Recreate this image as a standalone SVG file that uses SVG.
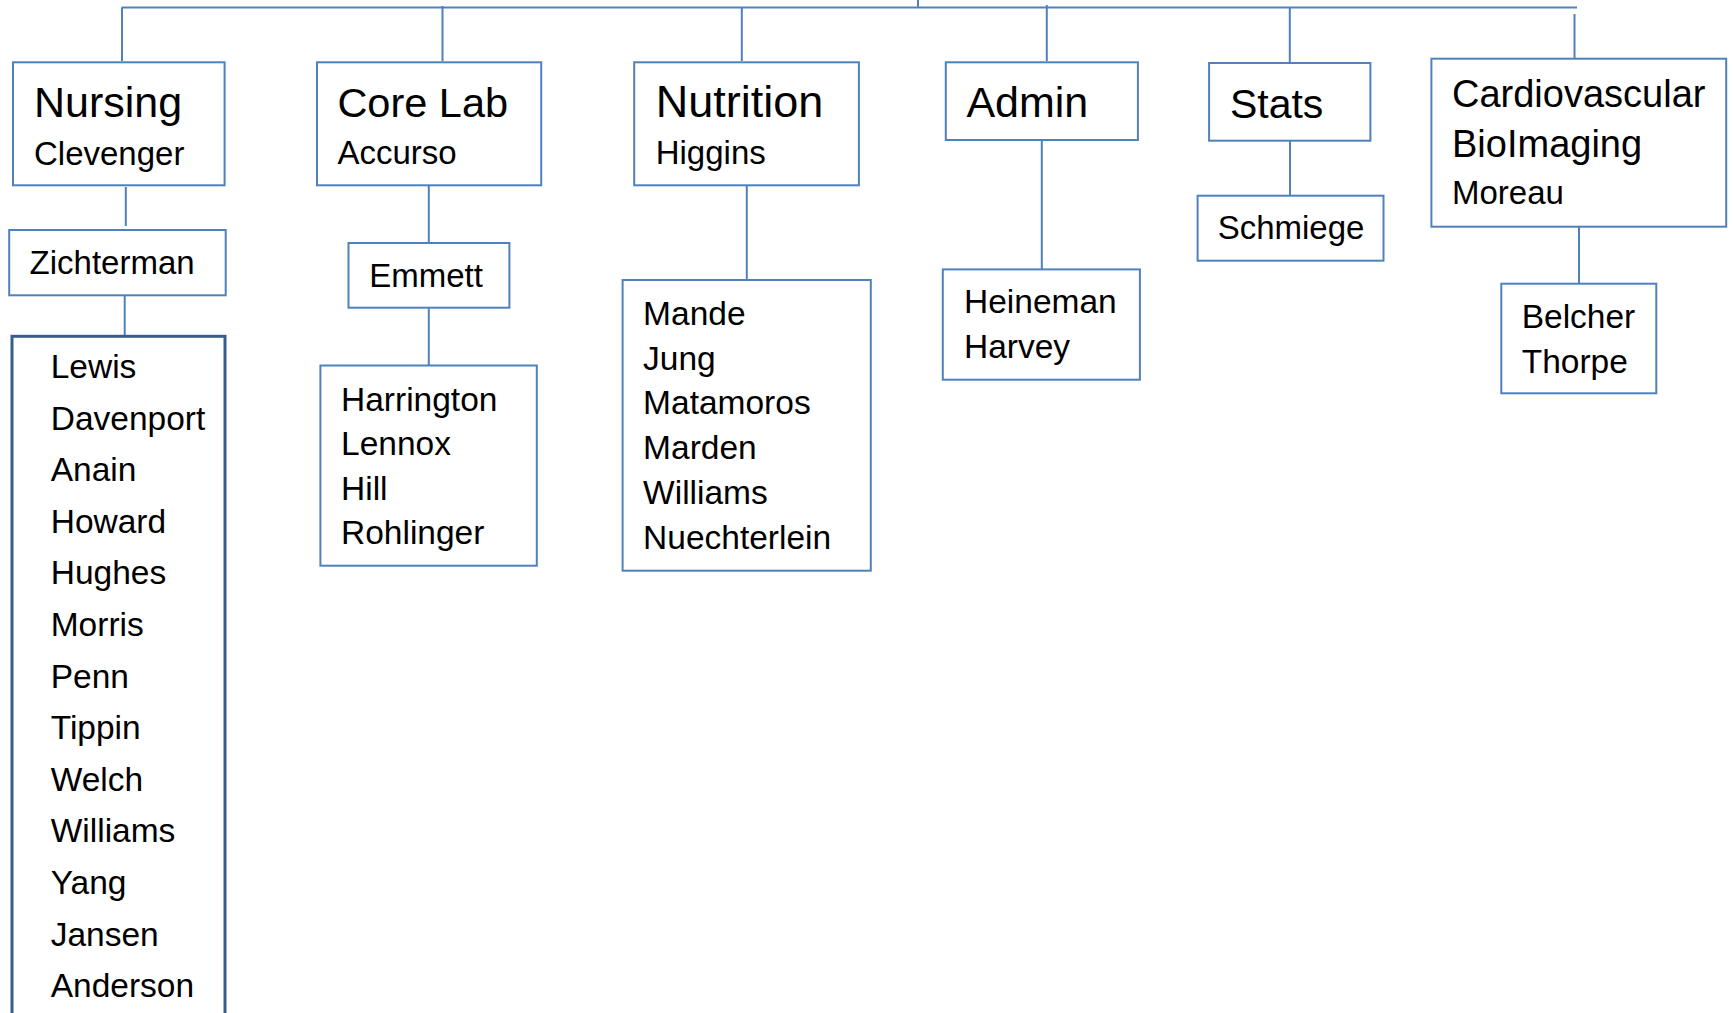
<svg xmlns="http://www.w3.org/2000/svg" width="1733" height="1013" viewBox="0 0 1733 1013">
<style>
.box{fill:#fff;stroke:#4F81BD;stroke-width:2}
.list{fill:#fff;stroke:#385D8A;stroke-width:3}
.ln{stroke:#4F81BD;stroke-width:2;fill:none}
text{font-family:"Liberation Sans",Arial,sans-serif;fill:#000}
.t{font-size:43px}
.s{font-size:33px}
.c{font-size:38px}
.n{font-size:33.5px}
</style>
<rect width="1733" height="1013" fill="#fff"/>
<g id="connectors">
<line class="ln" x1="121.6" y1="7.5" x2="1577" y2="7.5"/>
<line class="ln" x1="918" y1="0" x2="918" y2="7.5"/>
<line class="ln" x1="122" y1="7.5" x2="122" y2="61"/>
<line class="ln" x1="442.5" y1="6" x2="442.5" y2="61"/>
<line class="ln" x1="741.8" y1="7.5" x2="741.8" y2="61"/>
<line class="ln" x1="1046.8" y1="5" x2="1046.8" y2="61"/>
<line class="ln" x1="1289.8" y1="7.5" x2="1289.8" y2="62"/>
<line class="ln" x1="1574.5" y1="14" x2="1574.5" y2="58"/>
<line class="ln" x1="125.8" y1="187" x2="125.8" y2="226"/>
<line class="ln" x1="124.7" y1="296" x2="124.7" y2="335"/>
<line class="ln" x1="428.8" y1="186" x2="428.8" y2="243"/>
<line class="ln" x1="428.8" y1="308" x2="428.8" y2="365"/>
<line class="ln" x1="746.8" y1="186" x2="746.8" y2="280"/>
<line class="ln" x1="1041.8" y1="141" x2="1041.8" y2="269"/>
<line class="ln" x1="1290" y1="141" x2="1290" y2="195.5"/>
<line class="ln" x1="1579" y1="227" x2="1579" y2="283.5"/>
</g>
<g id="nursing">
<rect class="box" x="13" y="62.3" width="211.6" height="123"/>
<text class="t" x="34" y="116.7">Nursing</text>
<text class="s" x="34" y="165">Clevenger</text>
</g>
<g id="zichterman">
<rect class="box" x="9.2" y="230" width="216.5" height="65.3"/>
<text class="s" x="29.6" y="274">Zichterman</text>
</g>
<g id="nursing-staff">
<rect class="list" x="12" y="336.3" width="213" height="690"/>
<text class="n" x="50.7" y="378">Lewis</text>
<text class="n" x="50.7" y="429.6">Davenport</text>
<text class="n" x="50.7" y="481.2">Anain</text>
<text class="n" x="50.7" y="532.8">Howard</text>
<text class="n" x="50.7" y="584.4">Hughes</text>
<text class="n" x="50.7" y="636">Morris</text>
<text class="n" x="50.7" y="687.6">Penn</text>
<text class="n" x="50.7" y="739.2">Tippin</text>
<text class="n" x="50.7" y="790.8">Welch</text>
<text class="n" x="50.7" y="842.4">Williams</text>
<text class="n" x="50.7" y="894">Yang</text>
<text class="n" x="50.7" y="945.6">Jansen</text>
<text class="n" x="50.7" y="997.2">Anderson</text>
</g>
<g id="corelab">
<rect class="box" x="317" y="62.3" width="224.2" height="123"/>
<text class="t" x="337.4" y="116.7" style="font-size:41.5px">Core Lab</text>
<text class="s" x="337.4" y="164.3">Accurso</text>
</g>
<g id="emmett">
<rect class="box" x="348.5" y="243" width="160.9" height="64.7"/>
<text class="s" x="369.2" y="286.7">Emmett</text>
</g>
<g id="corelab-staff">
<rect class="box" x="320.4" y="365.5" width="216.4" height="200.2"/>
<text class="n" x="341" y="410.6">Harrington</text>
<text class="n" x="341" y="455">Lennox</text>
<text class="n" x="341" y="499.5">Hill</text>
<text class="n" x="341" y="544">Rohlinger</text>
</g>
<g id="nutrition">
<rect class="box" x="634.2" y="62.3" width="224.7" height="123"/>
<text class="t" x="655.7" y="116.7" style="font-size:45px">Nutrition</text>
<text class="s" x="655.7" y="164.3">Higgins</text>
</g>
<g id="nutrition-staff">
<rect class="box" x="622.6" y="280" width="248.2" height="290.7"/>
<text class="n" x="643.1" y="325">Mande</text>
<text class="n" x="643.1" y="369.7">Jung</text>
<text class="n" x="643.1" y="414.4">Matamoros</text>
<text class="n" x="643.1" y="459.1">Marden</text>
<text class="n" x="643.1" y="503.8">Williams</text>
<text class="n" x="643.1" y="548.5">Nuechterlein</text>
</g>
<g id="admin">
<rect class="box" x="945.8" y="62.3" width="192.1" height="77.7"/>
<text class="t" x="966.4" y="116.7">Admin</text>
</g>
<g id="admin-staff">
<rect class="box" x="942.8" y="269.4" width="197.1" height="110.3"/>
<text class="n" x="964" y="313.3">Heineman</text>
<text class="n" x="964" y="358.3">Harvey</text>
</g>
<g id="stats">
<rect class="box" x="1209.1" y="63" width="161.3" height="77.7"/>
<text class="t" x="1229.9" y="117.7" style="font-size:41px">Stats</text>
</g>
<g id="schmiege">
<rect class="box" x="1197.6" y="195.7" width="185.9" height="65"/>
<text class="s" x="1217.7" y="239.3">Schmiege</text>
</g>
<g id="cardio">
<rect class="box" x="1431.4" y="58.7" width="294.8" height="168"/>
<text class="c" x="1452" y="107.3">Cardiovascular</text>
<text class="c" x="1452" y="157.3">BioImaging</text>
<text class="s" x="1452" y="204">Moreau</text>
</g>
<g id="cardio-staff">
<rect class="box" x="1501.3" y="283.7" width="155" height="109.6"/>
<text class="n" x="1521.7" y="328.3">Belcher</text>
<text class="n" x="1521.7" y="372.7">Thorpe</text>
</g>
</svg>
